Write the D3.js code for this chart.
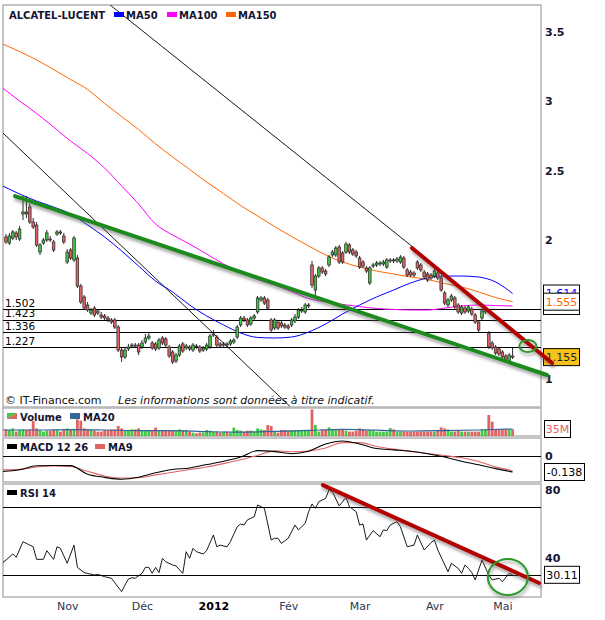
<!DOCTYPE html>
<html><head><meta charset="utf-8">
<script src="https://cdn.jsdelivr.net/npm/d3@7"></script>
<style>
body{margin:0;background:#fff;}
svg{display:block;font-family:"DejaVu Sans",Verdana,sans-serif;}
</style></head><body>
<svg id="c" width="605" height="620"></svg>
<script>
// ---------- DATA ----------
const opens=[2.022,1.978,2.014,2.051,2.007,2.188,2.202,2.238,2.130,2.108,1.913,1.978,2.000,2.007,1.986,2.043,2.058,2.029,1.841,1.928,1.856,1.870,1.668,1.589,1.531,1.473,1.509,1.488,1.459,1.452,1.437,1.423,1.423,1.372,1.206,1.156,1.214,1.235,1.242,1.242,1.228,1.264,1.293,1.257,1.250,1.221,1.293,1.286,1.228,1.192,1.127,1.170,1.250,1.221,1.228,1.206,1.235,1.228,1.206,1.214,1.228,1.314,1.300,1.250,1.242,1.250,1.250,1.264,1.300,1.387,1.437,1.423,1.394,1.437,1.481,1.567,1.582,1.567,1.423,1.365,1.408,1.401,1.387,1.380,1.387,1.416,1.444,1.488,1.481,1.524,1.820,1.639,1.740,1.798,1.776,1.820,1.892,1.892,1.949,1.906,1.913,1.964,1.928,1.913,1.870,1.841,1.798,1.690,1.812,1.820,1.827,1.827,1.805,1.849,1.856,1.849,1.841,1.870,1.784,1.769,1.762,1.841,1.820,1.769,1.755,1.747,1.740,1.762,1.726,1.618,1.531,1.567,1.582,1.531,1.473,1.509,1.488,1.502,1.459,1.408,1.437,1.481,1.329,1.257,1.228,1.214,1.192,1.163,1.120,1.163];
const closes=[1.986,2.029,2.058,2.022,2.079,2.202,2.188,2.130,2.094,1.964,1.964,2.000,2.051,2.000,1.928,2.058,2.051,1.986,1.913,1.870,2.014,1.668,1.553,1.509,1.495,1.495,1.459,1.473,1.444,1.437,1.423,1.408,1.372,1.206,1.156,1.206,1.228,1.242,1.235,1.192,1.257,1.293,1.307,1.221,1.214,1.278,1.257,1.242,1.163,1.120,1.170,1.235,1.199,1.235,1.214,1.242,1.228,1.199,1.221,1.242,1.307,1.322,1.242,1.235,1.250,1.242,1.271,1.278,1.372,1.437,1.423,1.387,1.437,1.452,1.582,1.582,1.545,1.509,1.351,1.423,1.365,1.380,1.372,1.365,1.423,1.444,1.495,1.495,1.531,1.531,1.675,1.740,1.798,1.769,1.755,1.877,1.913,1.942,1.841,1.841,1.971,1.913,1.899,1.885,1.805,1.812,1.776,1.798,1.820,1.834,1.834,1.841,1.856,1.856,1.849,1.863,1.877,1.805,1.747,1.747,1.747,1.798,1.784,1.733,1.711,1.726,1.776,1.726,1.639,1.545,1.567,1.596,1.517,1.481,1.517,1.481,1.517,1.466,1.408,1.351,1.488,1.495,1.228,1.221,1.185,1.177,1.156,1.141,1.170,1.155];
const highs=[2.043,2.051,2.072,2.065,2.101,2.318,2.318,2.260,2.159,2.130,1.978,2.014,2.072,2.029,2.000,2.072,2.072,2.051,1.935,1.942,2.029,1.892,1.683,1.603,1.553,1.509,1.524,1.502,1.481,1.466,1.452,1.437,1.437,1.387,1.221,1.228,1.250,1.257,1.257,1.257,1.278,1.322,1.329,1.271,1.264,1.293,1.307,1.300,1.242,1.206,1.185,1.250,1.264,1.250,1.242,1.257,1.250,1.242,1.235,1.257,1.322,1.351,1.314,1.264,1.264,1.264,1.286,1.293,1.387,1.452,1.452,1.437,1.452,1.466,1.596,1.596,1.596,1.582,1.437,1.437,1.423,1.416,1.401,1.394,1.437,1.466,1.509,1.517,1.545,1.545,1.849,1.755,1.812,1.812,1.791,1.892,1.928,1.957,1.964,1.921,1.986,1.978,1.942,1.928,1.885,1.856,1.812,1.812,1.834,1.849,1.849,1.856,1.870,1.870,1.870,1.877,1.892,1.885,1.798,1.784,1.776,1.856,1.834,1.784,1.769,1.762,1.791,1.776,1.740,1.632,1.582,1.611,1.596,1.545,1.531,1.524,1.531,1.517,1.473,1.423,1.502,1.509,1.343,1.271,1.242,1.228,1.206,1.177,1.185,1.221];
const lows=[1.971,1.964,2.000,2.000,1.993,2.144,2.159,2.116,2.079,1.949,1.892,1.964,1.986,1.986,1.913,2.029,2.036,1.971,1.827,1.856,1.841,1.654,1.538,1.495,1.481,1.459,1.444,1.459,1.430,1.423,1.408,1.394,1.358,1.192,1.120,1.141,1.199,1.221,1.221,1.170,1.214,1.250,1.278,1.206,1.199,1.206,1.242,1.228,1.149,1.105,1.112,1.156,1.185,1.206,1.199,1.192,1.214,1.185,1.192,1.199,1.214,1.300,1.228,1.221,1.228,1.228,1.235,1.250,1.286,1.372,1.408,1.372,1.380,1.423,1.466,1.553,1.531,1.495,1.336,1.351,1.351,1.365,1.358,1.351,1.372,1.401,1.430,1.473,1.466,1.509,1.654,1.589,1.726,1.755,1.740,1.805,1.877,1.877,1.827,1.827,1.899,1.899,1.885,1.870,1.791,1.798,1.762,1.675,1.798,1.805,1.812,1.812,1.791,1.834,1.834,1.834,1.827,1.791,1.733,1.733,1.733,1.784,1.769,1.719,1.697,1.711,1.726,1.711,1.625,1.531,1.517,1.553,1.502,1.466,1.459,1.466,1.473,1.452,1.394,1.336,1.423,1.466,1.214,1.206,1.170,1.163,1.141,1.127,1.105,1.141];
const volumes=[33,30,38,22,30,33,30,33,75,38,30,22,27,27,30,30,22,30,38,30,30,83,77,38,33,33,27,22,22,30,30,33,33,50,38,30,27,33,33,38,30,30,30,27,42,30,30,27,30,30,27,33,30,30,22,17,13,17,17,30,27,22,22,17,22,22,17,42,30,27,22,27,27,22,38,33,30,55,50,22,17,30,30,27,30,30,30,27,27,30,133,55,22,33,30,43,30,30,30,33,27,22,22,27,38,33,27,30,27,22,22,22,22,40,33,22,22,22,22,22,22,22,22,22,22,22,22,30,43,38,33,22,22,30,22,22,22,22,22,22,33,33,105,72,33,33,33,33,33,33];

const sampleDays=[-1,4,9,14,19,24,29,34,39,44,49,54,59,64,69,74,79,84,89,94,99,104,109,114,119,124,129,134,139,144,149];
const ma50=[2.390,2.332,2.281,2.238,2.188,2.108,2.022,1.921,1.812,1.704,1.625,1.531,1.452,1.387,1.329,1.297,1.293,1.300,1.336,1.394,1.466,1.531,1.589,1.639,1.690,1.726,1.740,1.740,1.733,1.697,1.614];
const ma100=[3.097,3.003,2.913,2.815,2.714,2.624,2.519,2.390,2.260,2.115,2.036,1.971,1.899,1.827,1.769,1.715,1.675,1.628,1.578,1.553,1.535,1.520,1.506,1.499,1.495,1.495,1.509,1.524,1.531,1.527,1.524];
const ma150=[3.414,3.360,3.299,3.230,3.158,3.086,2.985,2.891,2.797,2.693,2.599,2.509,2.418,2.335,2.249,2.173,2.097,2.025,1.957,1.892,1.841,1.805,1.776,1.755,1.733,1.715,1.686,1.661,1.625,1.585,1.555];
const macd=[-0.134,-0.119,-0.084,-0.082,-0.083,-0.157,-0.184,-0.201,-0.184,-0.145,-0.116,-0.103,-0.074,-0.046,-0.009,0.046,0.038,0.020,0.041,0.103,0.130,0.103,0.064,0.053,0.041,0.020,-0.009,-0.045,-0.076,-0.109,-0.138];
const macdSignal=[-0.120,-0.115,-0.095,-0.086,-0.091,-0.132,-0.172,-0.190,-0.187,-0.163,-0.140,-0.117,-0.095,-0.066,-0.033,0.005,0.044,0.037,0.043,0.069,0.115,0.115,0.082,0.059,0.040,0.021,0.004,-0.015,-0.047,-0.094,-0.127];

const volMaDays=[-1,9,19,29,39,49,59,69,79,89,99,109,119,129,139,149];
const volMa20=[30,30,32,30,27,27,22,19,23,28,33,29,25,27,30,35];

const rsiDays=[-1,0,2,3,5,7,8,9,11,12,14,15,16,18,20,21,23,26,27,29,31,34,35,36,37,38,40,41,42,43,44,45,46,47,49,50,52,53,54,55,56,58,59,61,62,63,65,66,68,69,70,71,73,74,75,76,78,79,80,81,83,85,86,88,89,90,91,92,94,95,96,98,100,101,103,104,105,106,108,110,111,112,113,115,116,118,120,121,123,125,126,127,130,131,133,134,135,136,137,138,140,142,143,145,146,148,149];
const rsi=[37.2,38.8,42.4,40.4,49.6,47.6,46.6,39.2,39.2,44.3,39.2,46.6,45.7,36.9,47.6,34.5,31.4,30,30.4,29,28.1,20.2,24.1,27.6,28.4,28.1,31,34.5,34.5,31,34.5,31.4,39.8,37.8,35.9,35.3,31,43.7,39.8,45.7,43.7,42.4,44.3,53.5,46.6,47.6,46.6,49.6,58.4,60,59.4,62.4,64.3,71.2,70.2,69.2,50.6,51.6,51.6,48.6,51.6,59.4,56.5,60.4,67.2,71.8,69.2,73.1,75.1,80,79,70.6,75.7,70.2,67.2,59.4,60,50.6,56.1,52.5,56.5,56.1,59.4,61.4,58.4,46.6,47.6,53.5,44.7,49,50.6,44.7,31.9,36.9,33.9,31,35.9,33.9,31.4,27.1,38.8,30,27.1,28.1,26.1,31,30.11];

const monthDays=[18,40,61,83,104,126,146];
const monthLabels=["Nov","Déc","2012","Fév","Mar","Avr","Mai"];
const priceTicks=[1,2,2.5,3,3.5];
const supportLevels=[1.502,1.423,1.336,1.227];
const last={price:1.155,ma50:1.614,ma100:1.524,ma150:1.555,volMa:35,macd:-0.138,rsi:30.11};

// drawn annotations, in data coordinates [day, value]
const blackLines=[[[30.6,3.696],[119.7,1.949]],[[-1.2,2.779],[83.5,0.80]]];
const greenTrend=[[2.65,2.317],[159.1,1.026]];
const redTrend=[[119.4,1.942],[160.6,1.113]];
const priceCircle=[153.5,1.235];
const rsiTrend=[[93.2,82.9],[156.8,25.3]];
const rsiCircle=[147.6,28.8];

// ---------- CHART ----------
const svg=d3.select("#c");
const defs=svg.append("defs");
const f=defs.append("filter").attr("id","sh").attr("filterUnits","userSpaceOnUse")
  .attr("x",0).attr("y",0).attr("width",605).attr("height",620);
f.append("feDropShadow").attr("dx",1).attr("dy",3).attr("stdDeviation",1.4)
  .attr("flood-color","#555").attr("flood-opacity",0.5);

const L=3,R=541;
const P={main:[5,407],vol:[408,436],macd:[438,482],rsi:[484,597]};
Object.entries(P).forEach(([k,[t,b]])=>{
  defs.append("clipPath").attr("id","cl-"+k).append("rect")
    .attr("x",L).attr("y",t).attr("width",R-L).attr("height",b-t);
});

const x=d3.scaleLinear().domain([0,149]).range([6,512.6]);
const yP=d3.scaleLinear().domain([1,3.5]).range([378.6,32.1]);
const yV=d3.scaleLinear().domain([0,140]).range([436,408]);
const yM=d3.scaleLinear().domain([-0.138,0]).range([472,456]);
const yR=d3.scaleLinear().domain([30,70]).range([575,507]);

const GREEN="#44c844", RED="#e06464";

Object.values(P).forEach(([t,b])=>{
  svg.append("rect").attr("x",L).attr("y",t).attr("width",R-L).attr("height",b-t)
    .attr("fill","#fff").attr("stroke","#b4b4b4").attr("stroke-width",1.5);
});

// ---- main panel ----
const gm=svg.append("g").attr("clip-path","url(#cl-main)");
gm.selectAll("line.sup").data(supportLevels).join("line")
  .attr("x1",L).attr("x2",R).attr("y1",d=>Math.round(yP(d))+0.5).attr("y2",d=>Math.round(yP(d))+0.5)
  .attr("stroke","#000").attr("stroke-width",1);
gm.selectAll("text.sup").data(supportLevels).join("text")
  .attr("x",5).attr("y",d=>yP(d)-2.5).attr("font-size","10.5px").attr("fill","#000")
  .text(d=>d.toFixed(3));
blackLines.forEach(l=>{
  gm.append("line").attr("x1",x(l[0][0])).attr("y1",yP(l[0][1])).attr("x2",x(l[1][0])).attr("y2",yP(l[1][1]))
    .attr("stroke","#000").attr("stroke-width",0.9);
});
const maLine=arr=>d3.line().curve(d3.curveMonotoneX).x((d,i)=>x(sampleDays[i])).y(d=>yP(d))(arr);
[[ma150,"#ff6600"],[ma100,"#ff00ff"],[ma50,"#0000ff"]].forEach(([a,c])=>{
  gm.append("path").attr("d",maLine(a)).attr("fill","none").attr("stroke",c).attr("stroke-width",1);
});
const days=d3.range(opens.length);
gm.selectAll("line.wick").data(days).join("line")
  .attr("x1",i=>x(i)).attr("x2",i=>x(i)).attr("y1",i=>yP(highs[i])).attr("y2",i=>yP(lows[i]))
  .attr("stroke","#111").attr("stroke-width",0.9);
gm.selectAll("rect.body").data(days).join("rect")
  .attr("x",i=>x(i)-1.3).attr("width",2.6)
  .attr("y",i=>yP(Math.max(opens[i],closes[i])))
  .attr("height",i=>Math.max(1,Math.abs(yP(opens[i])-yP(closes[i]))))
  .attr("fill",i=>closes[i]>=opens[i]?GREEN:RED).attr("stroke","#222").attr("stroke-width",0.7);

// legend
svg.append("text").attr("x",9).attr("y",18.5).attr("font-size","10px").attr("font-weight","bold").attr("fill","#141432").text("ALCATEL-LUCENT");
[["MA50","#0000ff",114],["MA100","#ff00ff",167],["MA150","#ff6600",226]].forEach(([t,c,px])=>{
  svg.append("rect").attr("x",px).attr("y",12).attr("width",10).attr("height",5).attr("fill",c);
  svg.append("text").attr("x",px+12).attr("y",18.5).attr("font-size","10px").attr("font-weight","bold").attr("fill","#141432").text(t);
});
svg.append("text").attr("x",5).attr("y",404).attr("font-size","11px").attr("fill","#111").text("© IT-Finance.com");
svg.append("text").attr("x",118).attr("y",404).attr("font-size","11px").attr("font-style","italic").attr("fill","#111").text("Les informations sont données à titre indicatif.");

// price axis
const ax=svg.append("g").attr("transform",`translate(${R},0)`)
  .call(d3.axisRight(yP).tickValues(priceTicks).tickSize(0).tickPadding(4).tickFormat(d3.format("")));
ax.select(".domain").remove();
ax.selectAll("text").attr("font-size","11px").attr("font-weight","bold").attr("fill","#141432").attr("font-family","DejaVu Sans");

// value boxes (optional visible window for the text: [top,bottom])
let clipN=0;
function box(y,w,txt,col,fill,x0,win){
  x0=x0||543.5;
  const g=svg.append("g");
  g.append("rect").attr("x",x0).attr("y",y-8.5).attr("width",w).attr("height",17)
    .attr("fill",fill||"#fff").attr("stroke","#000").attr("stroke-width",1);
  if(txt===null) return;
  let tg=g;
  if(win){
    const id="bx"+(clipN++);
    defs.append("clipPath").attr("id",id).append("rect").attr("x",x0).attr("y",win[0]).attr("width",w).attr("height",Math.max(0,win[1]-win[0]));
    tg=g.append("g").attr("clip-path",`url(#${id})`);
  }
  tg.append("text").attr("x",x0+w/2).attr("y",y+4).attr("text-anchor","middle")
    .attr("font-size","11px").attr("fill",col).text(txt);
}
const topBox=yP(last.ma150)-8.5;
box(yP(last.ma50),36,last.ma50.toFixed(3),"#0000ff",null,null,[yP(last.ma50)-8.5,topBox]);
box(yP(last.ma100),36,null);   // MA100 value box, its text fully hidden in the reference
box(yP(last.ma150),36,last.ma150.toFixed(3),"#ff6600");
box(yP(last.price),36,last.price.toFixed(3),"#222","#f8c21c");

// ---- volume panel ----
const gv=svg.append("g").attr("clip-path","url(#cl-vol)");
gv.selectAll("rect").data(days).join("rect")
  .attr("x",i=>x(i)-1.4).attr("width",2.8).attr("y",i=>yV(volumes[i])).attr("height",i=>yV(0)-yV(volumes[i]))
  .attr("fill",i=>closes[i]>=opens[i]?GREEN:RED);
gv.append("path").attr("d",d3.line().curve(d3.curveMonotoneX).x((d,i)=>x(volMaDays[i])).y(d=>yV(d))(volMa20))
  .attr("fill","none").attr("stroke","#336699").attr("stroke-width",1.2);
svg.append("path").attr("d","M7,413 L17,413 L7,419 Z").attr("fill",GREEN);
svg.append("path").attr("d","M17,413 L17,419 L7,419 Z").attr("fill",RED);
svg.append("text").attr("x",20).attr("y",420.5).attr("font-size","10px").attr("font-weight","bold").attr("fill","#141432").text("Volume");
svg.append("rect").attr("x",70).attr("y",413).attr("width",10).attr("height",6).attr("fill","#336699");
svg.append("text").attr("x",83).attr("y",420.5).attr("font-size","10px").attr("font-weight","bold").attr("fill","#141432").text("MA20");
box(yV(last.volMa),26,last.volMa+"M","#e06464","#fff",544.5);

// ---- MACD panel ----
const gc=svg.append("g").attr("clip-path","url(#cl-macd)");
gc.append("line").attr("x1",L).attr("x2",R).attr("y1",yM(0)+0.5).attr("y2",yM(0)+0.5).attr("stroke","#000");
const mLine=arr=>d3.line().curve(d3.curveMonotoneX).x((d,i)=>x(sampleDays[i])).y(d=>yM(d))(arr);
gc.append("path").attr("d",mLine(macdSignal)).attr("fill","none").attr("stroke","#e06464").attr("stroke-width",1.1);
gc.append("path").attr("d",mLine(macd)).attr("fill","none").attr("stroke","#000").attr("stroke-width",1.1);
svg.append("rect").attr("x",7).attr("y",444).attr("width",10).attr("height",5).attr("fill","#000");
svg.append("text").attr("x",20).attr("y",450.5).attr("font-size","10px").attr("font-weight","bold").attr("fill","#141432").text("MACD 12 26");
svg.append("rect").attr("x",95).attr("y",444).attr("width",10).attr("height",5).attr("fill","#e06464");
svg.append("text").attr("x",108).attr("y",450.5).attr("font-size","10px").attr("font-weight","bold").attr("fill","#141432").text("MA9");
const axm=svg.append("g").attr("transform",`translate(${R},0)`)
  .call(d3.axisRight(yM).tickValues([0]).tickSize(0).tickPadding(4).tickFormat(d3.format("")));
axm.select(".domain").remove();
axm.selectAll("text").attr("font-size","11px").attr("font-weight","bold").attr("fill","#141432").attr("font-family","DejaVu Sans");
box(yM(last.macd),40,last.macd.toFixed(3),"#000","#fff",544.5);

// ---- RSI panel ----
const gr=svg.append("g").attr("clip-path","url(#cl-rsi)");
gr.selectAll("line.lv").data([70,30]).join("line")
  .attr("x1",L).attr("x2",R).attr("y1",d=>yR(d)+0.5).attr("y2",d=>yR(d)+0.5).attr("stroke","#000");
gr.append("path").attr("d",d3.line().x((d,i)=>x(rsiDays[i])).y(d=>yR(d))(rsi))
  .attr("fill","none").attr("stroke","#000").attr("stroke-width",0.9);
svg.append("rect").attr("x",7).attr("y",490).attr("width",10).attr("height",5).attr("fill","#000");
svg.append("text").attr("x",20).attr("y",496.5).attr("font-size","10px").attr("font-weight","bold").attr("fill","#141432").text("RSI 14");
const axr=svg.append("g").attr("transform",`translate(${R},0)`)
  .call(d3.axisRight(yR).tickValues([80,40]).tickSize(0).tickPadding(4).tickFormat(d3.format("")));
axr.select(".domain").remove();
axr.selectAll("text").attr("font-size","11px").attr("font-weight","bold").attr("fill","#141432").attr("font-family","DejaVu Sans");
box(yR(last.rsi),35,last.rsi.toFixed(2),"#000","#fff",544.5);

// ---- x axis ----
const axx=svg.append("g").attr("transform",`translate(0,${P.rsi[1]})`)
  .call(d3.axisBottom(x).tickValues(monthDays).tickSize(0).tickPadding(5).tickFormat((d,i)=>monthLabels[i]));
axx.select(".domain").remove();
axx.selectAll("text").attr("font-size","11px").attr("font-family","DejaVu Sans")
  .attr("font-weight",(d,i)=>monthLabels[i]==="2012"?"bold":"normal")
  .attr("fill",(d,i)=>monthLabels[i]==="2012"?"#000":"#2e3552");

// ---- annotations (trend lines, circles) ----
const ann=svg.append("g").attr("filter","url(#sh)");
ann.append("line").attr("x1",x(greenTrend[0][0])).attr("y1",yP(greenTrend[0][1])).attr("x2",x(greenTrend[1][0])).attr("y2",yP(greenTrend[1][1]))
  .attr("stroke","#1f8a1f").attr("stroke-width",4).attr("stroke-linecap","round");
ann.append("line").attr("x1",x(redTrend[0][0])).attr("y1",yP(redTrend[0][1])).attr("x2",x(redTrend[1][0])).attr("y2",yP(redTrend[1][1]))
  .attr("stroke","#b30000").attr("stroke-width",4).attr("stroke-linecap","round");
ann.append("ellipse").attr("cx",x(priceCircle[0])).attr("cy",yP(priceCircle[1])).attr("rx",8.5).attr("ry",6)
  .attr("fill","none").attr("stroke","#2a9a2a").attr("stroke-width",2);
ann.append("line").attr("x1",x(rsiTrend[0][0])).attr("y1",yR(rsiTrend[0][1])).attr("x2",x(rsiTrend[1][0])).attr("y2",yR(rsiTrend[1][1]))
  .attr("stroke","#b30000").attr("stroke-width",4).attr("stroke-linecap","round");
ann.append("ellipse").attr("cx",x(rsiCircle[0])).attr("cy",yR(rsiCircle[1])).attr("rx",20).attr("ry",18)
  .attr("fill","none").attr("stroke","#2a9a2a").attr("stroke-width",2);
</script>
</body></html>
